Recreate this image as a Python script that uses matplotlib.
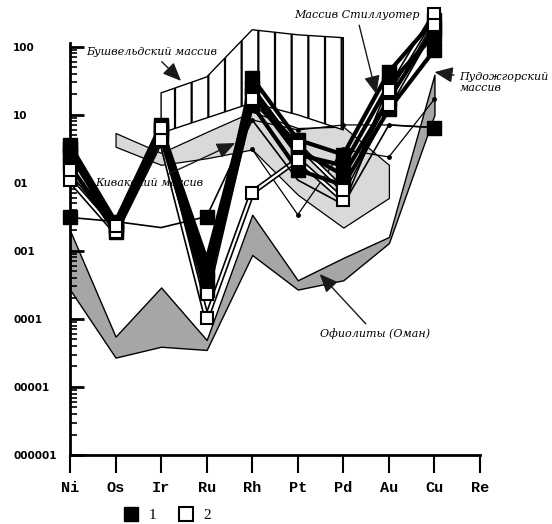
import matplotlib
matplotlib.use('Agg')
import matplotlib.pyplot as plt
import numpy as np
from matplotlib.ticker import FixedLocator, NullFormatter
from matplotlib.lines import Line2D

elements = ['Ni', 'Os', 'Ir', 'Ru', 'Rh', 'Pt', 'Pd', 'Au', 'Cu', 'Re']
ytick_vals = [1e2, 1e1, 1e0, 1e-1, 1e-2, 1e-3, 1e-4]
ytick_labels = ['100', '10', '01', '001', '0001', '00001', '000001']

# type 1 samples (filled squares), Ni..Cu
s1_a = [3.6, 0.27, 7.1, 0.037, 35, 4.3, 2.6, 43, 250]
s1_b = [2.6, 0.22, 5.6, 0.053, 20, 2.6, 1.8, 28, 150]
s1_c = [1.8, 0.19, 4.6, 0.027, 14, 1.55, 0.93, 12, 90]
s1_d = [3.1, 0.24, 6.5, 0.074, 25, 3.1, 1.3, 17, 190]
s1_e = [0.31, 0.27, 0.22, 0.32, 8.4, 1.1, 0.48, 7.1, 6.5]

# type 2 samples (open squares)
s2_a = [1.1, 0.19, 4.3, 0.0103, 0.72, 2.2, 0.56, 23, 300]
s2_b = [1.55, 0.23, 6.5, 0.023, 17, 3.6, 0.79, 14, 210]

# thin lines with dots, Rh..Cu
t_a = [3.1, 0.34, 3.1, 2.4, 17]
t_b = [8.4, 6.0, 7.1, 7.1, 6.5]

# Oman ophiolites band
oman_hi = [0.2, 0.0055, 0.029, 0.0049, 0.34, 0.037, 0.079, 0.16, 39]
oman_lo = [0.027, 0.0027, 0.0039, 0.0035, 0.087, 0.027, 0.037, 0.13, 10]

# light grey field, Os..Au
lg_hi = [5.4, 2.76, 5.6, 11.1, 6.4, 6.7, 1.84]
lg_lo = [3.4, 1.84, 2.3, 3.1, 0.67, 0.22, 0.6]

# Bushveld hatched field, Ir..Pd
bv_hi = [21, 36, 178, 150, 136]
bv_lo = [5.4, 9, 15, 10, 6]

plt.rcParams['hatch.linewidth'] = 1.6

fig = plt.figure(figsize=(5.52, 5.24), dpi=100)
ax = fig.add_axes([70 / 552, 69 / 524, 410 / 552, 447 / 524])
ax.set_yscale('log')

x = np.arange(9)

ax.fill_between(x, oman_lo, oman_hi, facecolor='#a6a6a6', edgecolor='black', lw=1, zorder=1)
ax.fill_between(x[1:8], lg_lo, lg_hi, facecolor='#d9d9d9', edgecolor='black', lw=0.9, zorder=1)
ax.fill_between(x[2:7], bv_lo, bv_hi, facecolor='white', edgecolor='black', hatch='|', lw=1, zorder=2)

for t in [t_a, t_b]:
    ax.plot(x[4:9], t, color='black', lw=0.9, marker='o', ms=2.5, zorder=3)

for s in [s2_a, s2_b]:
    ax.plot(x, s, color='black', lw=4, zorder=4, clip_on=False)
    ax.plot(x, s, color='white', lw=1.6, zorder=4, clip_on=False)

for s in [s1_a, s1_b, s1_c, s1_d]:
    ax.plot(x, s, color='black', lw=3, marker='s', ms=10, zorder=5, clip_on=False)
ax.plot(x, s1_e, color='black', lw=1.2, marker='s', ms=10, markevery=[0, 3, 8],
        zorder=5, clip_on=False)

for s in [s2_a, s2_b]:
    ax.plot(x, s, ls='none', marker='s', ms=8, mfc='white', mec='black', mew=1.5,
            zorder=6, clip_on=False)

ax.set_xlim(0, 9)
ax.set_ylim(1e-4, 10 ** 2.57)
for side in ['top', 'right']:
    ax.spines[side].set_visible(False)
ax.spines['left'].set_linewidth(2)
ax.spines['bottom'].set_linewidth(2)
ax.spines['left'].set_bounds(1e-4, 115)

ax.set_xticks(range(10))
ax.set_xticklabels(elements, family='Liberation Mono', fontweight='bold', fontsize=11)
ax.tick_params(axis='x', direction='out', length=13, width=1.5, pad=6)

ax.set_yticks(ytick_vals)
ax.set_yticklabels(ytick_labels, fontsize=7.5, fontweight='bold', ha='left')
minor = [m * 10.0 ** e for e in range(-4, 2) for m in range(2, 10)]
ax.yaxis.set_minor_locator(FixedLocator(minor))
ax.yaxis.set_minor_formatter(NullFormatter())
ax.tick_params(axis='y', which='major', direction='in', length=10, width=2, pad=41)
ax.tick_params(axis='y', which='minor', direction='in', length=5, width=1.2)

arrow = dict(arrowstyle='-|>,head_length=1.4,head_width=0.6', color='#1a1a1a', lw=1)
lab = dict(fontsize=8, style='italic', family='DejaVu Serif')

ax.annotate('Бушвельдский массив', xy=(2.48, 29.5), xytext=(1.8, 84),
            ha='center', va='center', arrowprops=arrow, zorder=7, **lab)
ax.annotate('Массив Стиллуотер', xy=(6.74, 18.4), xytext=(6.29, 296),
            ha='center', va='center', arrowprops=arrow, zorder=7, **lab)
ax.annotate('Пудожгорский\nмассив', xy=(7.94, 43), xytext=(8.55, 43),
            ha='left', va='top', arrowprops=arrow, zorder=7, **lab)
ax.annotate('Кивакский массив', xy=(3.68, 4.0), xytext=(1.75, 1.0),
            ha='center', va='center', arrowprops=arrow, zorder=7, **lab)
ax.annotate('Офиолиты (Оман)', xy=(5.44, 0.049), xytext=(6.7, 0.006),
            ha='center', va='center', arrowprops=arrow, zorder=7, **lab)

handles = [Line2D([], [], ls='none', marker='s', ms=10, color='black'),
           Line2D([], [], ls='none', marker='s', ms=10, mfc='white', mec='black', mew=1.5)]
fig.legend(handles, ['1', '2'], loc='center left', bbox_to_anchor=(110 / 552, 9 / 524),
           ncol=2, frameon=False, handlelength=1, handletextpad=0.6, columnspacing=1.5,
           prop={'family': 'Liberation Serif', 'size': 11})

fig.savefig('out.png', dpi=100)
